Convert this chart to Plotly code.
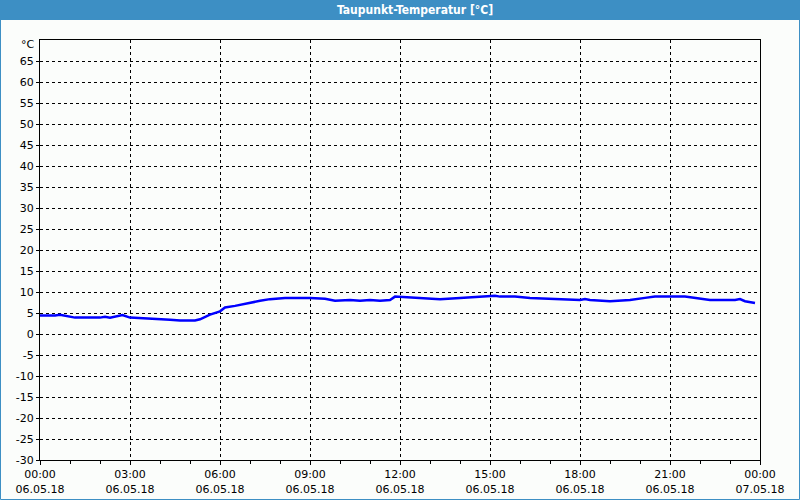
import plotly.graph_objects as go

# data: time of day on 06.05.18 (HH:MM) and dew point in °C
times = ["00:00","00:30","00:40","01:00","01:10","02:00","02:10","02:20","02:35","02:45",
         "03:00","03:20","03:40","04:00","04:20","04:40","05:10","05:20","05:40","06:00",
         "06:10","06:30","07:00","07:20","07:40","08:10","09:00","09:30","09:50","10:20",
         "10:40","11:00","11:20","11:40","11:50","12:30","13:20","14:00","14:40","15:10",
         "15:20","15:50","16:20","17:00","17:30","18:00","18:10","18:20","19:00","19:40",
         "20:10","20:30","21:30","22:00","22:20","23:10","23:20","23:30","23:50"]
values = [4.4,4.4,4.6,4.2,3.9,3.9,4.1,3.9,4.3,4.5,
          3.9,3.8,3.6,3.6,3.4,3.2,3.2,3.5,4.6,5.4,
          6.3,6.7,7.5,7.9,8.3,8.6,8.6,8.4,7.9,8.1,
          7.9,8.1,7.9,8.1,8.9,8.6,8.3,8.6,8.9,9.1,
          8.9,8.9,8.6,8.4,8.3,8.1,8.3,8.1,7.8,8.1,
          8.6,8.9,8.9,8.4,8.1,8.1,8.3,7.8,7.4]

x_tick_vals = ["2018-05-06 00:00","2018-05-06 03:00","2018-05-06 06:00","2018-05-06 09:00",
               "2018-05-06 12:00","2018-05-06 15:00","2018-05-06 18:00","2018-05-06 21:00",
               "2018-05-07 00:00"]
x_tick_text = ["00:00<br>06.05.18","03:00<br>06.05.18","06:00<br>06.05.18","09:00<br>06.05.18",
               "12:00<br>06.05.18","15:00<br>06.05.18","18:00<br>06.05.18","21:00<br>06.05.18",
               "00:00<br>07.05.18"]
y_tick_vals = list(range(-30, 70, 5))
y_tick_text = [str(v) for v in y_tick_vals]
y_unit = "°C"

title = "Taupunkt-Temperatur [°C]"

xs = ["2018-05-06 " + t for t in times]

fig = go.Figure()
fig.add_trace(go.Scatter(x=xs, y=values, mode="lines",
                         line=dict(color="#0000ff", width=2.5), showlegend=False,
                         hoverinfo="skip"))

W, H = 800, 500
L, R, T, B = 40, 40, 40, 40
pw, ph = W - L - R, H - T - B
def px(x): return (x - L) / pw
def py(y): return (H - B - y) / ph

bg = "#fbfdfb"
blue = "#3d8fc4"
fig.add_shape(type="rect", xref="paper", yref="paper",
              x0=px(0), x1=px(W), y0=py(20), y1=py(0),
              fillcolor=blue, line=dict(width=0), layer="below")
fig.add_shape(type="rect", xref="paper", yref="paper",
              x0=px(0.5), x1=px(W - 0.5), y0=py(H - 0.5), y1=py(0.5),
              fillcolor="rgba(0,0,0,0)", line=dict(color=blue, width=1), layer="below")
fig.add_annotation(text="<b>" + title + "</b>", xref="paper", yref="paper",
                   x=px(415), y=py(10), showarrow=False,
                   font=dict(family="DejaVu Sans Condensed, Liberation Sans, sans-serif",
                             size=12, color="white"),
                   xanchor="center", yanchor="middle")
fig.add_annotation(text=y_unit, xref="paper", yref="paper",
                   x=px(37), y=py(45), showarrow=False,
                   font=dict(family="DejaVu Sans, sans-serif", size=11, color="#000000"),
                   xanchor="right", yanchor="middle")

fig.update_layout(
    width=W, height=H,
    margin=dict(l=L, r=R, t=T, b=B),
    paper_bgcolor=bg, plot_bgcolor=bg,
    font=dict(family="DejaVu Sans, sans-serif", size=11, color="#000000"),
)
fig.update_xaxes(
    type="date", range=["2018-05-06 00:00", "2018-05-07 00:00"],
    tickvals=x_tick_vals, ticktext=x_tick_text, automargin=False,
    showgrid=True, gridcolor="#000000", gridwidth=1, griddash="3px,3px",
    showline=True, linecolor="#000000", linewidth=1, mirror=True,
    ticks="outside", ticklen=4, tickcolor="#000000",
    minor=dict(dtick=3600000, ticks="outside", ticklen=3, tickcolor="#000000", showgrid=False),
    zeroline=False, fixedrange=True,
)
fig.update_yaxes(
    range=[-30, 70], tickvals=y_tick_vals, ticktext=y_tick_text, automargin=False,
    showgrid=True, gridcolor="#000000", gridwidth=1, griddash="3px,3px",
    showline=True, linecolor="#000000", linewidth=1, mirror=True,
    ticks="outside", ticklen=3, tickcolor="#000000",
    zeroline=False, fixedrange=True,
)

fig.write_html("out.html")
